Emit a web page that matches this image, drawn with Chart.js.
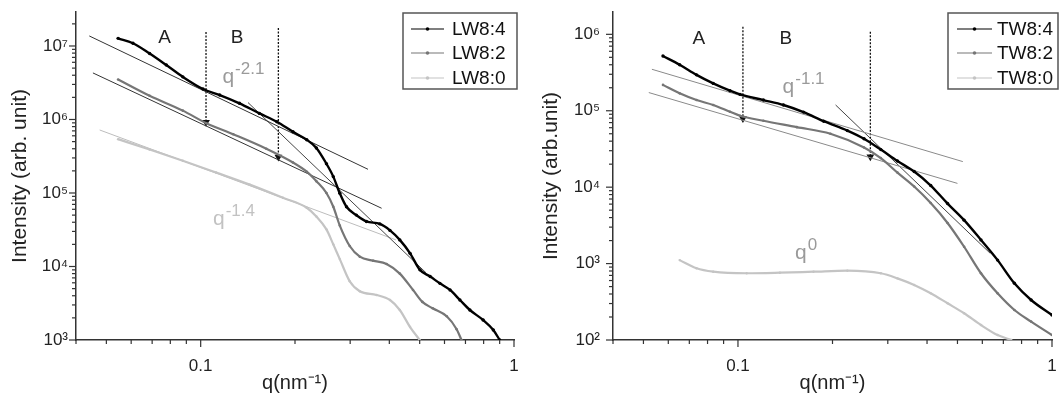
<!DOCTYPE html>
<html>
<head>
<meta charset="utf-8">
<script src="https://cdn.jsdelivr.net/npm/chart.js@4.4.0/dist/chart.umd.min.js"></script>
<style>
  html, body { margin: 0; padding: 0; background: #fff; }
  #wrap { position: relative; width: 1062px; height: 399px; overflow: hidden; }
  .panel { position: absolute; top: 0; width: 531px; height: 399px; }
</style>
</head>
<body>
<div id="wrap">
  <div class="panel" style="left:0"><canvas id="lwChart" width="531" height="399"></canvas></div>
  <div class="panel" style="left:531px"><canvas id="twChart" width="531" height="399"></canvas></div>
</div>
<script>
const FONT = "'Liberation Sans', Arial, sans-serif";

// ---- left panel (LW) ----
const qLW84 = [0.0545, 0.0608, 0.0687, 0.0777, 0.0877, 0.1017, 0.115, 0.133, 0.154, 0.175, 0.197, 0.218, 0.234, 0.252, 0.265, 0.278, 0.292, 0.314, 0.338, 0.373, 0.402, 0.432, 0.466, 0.501, 0.54, 0.58, 0.625, 0.672, 0.723, 0.797, 0.859, 0.90];
const iLW84 = [1.27e7, 1.09e7, 7.9e6, 5.5e6, 3.8e6, 2.6e6, 2.15e6, 1.66e6, 1.21e6, 9.3e5, 6.8e5, 5.3e5, 4.1e5, 2.5e5, 1.67e5, 9.9e4, 6.5e4, 5.0e4, 4.1e4, 3.8e4, 3.1e4, 2.3e4, 1.51e4, 9.0e3, 7.3e3, 5.9e3, 4.8e3, 3.5e3, 2.56e3, 1.87e3, 1.37e3, 1.0e3];
const qLW82 = [0.0545, 0.0687, 0.0877, 0.1043, 0.127, 0.162, 0.197, 0.218, 0.234, 0.252, 0.265, 0.278, 0.299, 0.322, 0.355, 0.392, 0.432, 0.476, 0.51, 0.55, 0.61, 0.656, 0.68];
const iLW82 = [3.5e6, 2.1e6, 1.32e6, 8.9e5, 6.3e5, 4.0e5, 2.6e5, 1.95e5, 1.45e5, 1.0e5, 6.5e4, 3.6e4, 1.9e4, 1.36e4, 1.2e4, 1.08e4, 8.0e3, 4.8e3, 3.3e3, 2.7e3, 2.1e3, 1.4e3, 1.0e3];
const qLW80 = [0.0545, 0.0687, 0.0877, 0.112, 0.1434, 0.183, 0.218, 0.234, 0.252, 0.265, 0.278, 0.299, 0.322, 0.364, 0.402, 0.432, 0.466, 0.50];
const iLW80 = [5.4e5, 3.9e5, 2.75e5, 1.9e5, 1.3e5, 8.6e4, 6.3e4, 4.8e4, 3.2e4, 2.0e4, 1.26e4, 6.3e3, 4.6e3, 4.1e3, 3.5e3, 2.56e3, 1.5e3, 1.0e3];

const fitLWUpperQ = [0.0441, 0.342], fitLWUpperI = [1.37e7, 2.1e5];
const fitLWLowerQ = [0.0453, 0.378], fitLWLowerI = [4.3e6, 6.2e4];
const fitLWSteepQ = [0.1416, 0.524], fitLWSteepI = [1.7e6, 8.2e3];
const fitLWLightQ = [0.0476, 0.42], fitLWLightI = [7.2e5, 2.3e4];
const arrowLWQ = [0.104, 0.177], arrowLWTop = [1.55e7, 1.76e7], arrowLWTip = [9.2e5, 3.1e5];

// ---- right panel (TW) ----
const qTW84 = [0.0577, 0.0652, 0.0738, 0.0834, 0.0943, 0.1015, 0.1205, 0.1396, 0.1617, 0.1875, 0.223, 0.252, 0.285, 0.322, 0.364, 0.411, 0.465, 0.525, 0.594, 0.671, 0.759, 0.858, 1.0];
const iTW84 = [5.2e5, 4.0e5, 2.95e5, 2.28e5, 1.83e5, 1.64e5, 1.38e5, 1.19e5, 9.6e4, 7.3e4, 5.5e4, 4.3e4, 3.1e4, 2.2e4, 1.6e4, 1.05e4, 6.1e3, 3.7e3, 2.04e3, 1.11e3, 552, 334, 212];
const qTW82 = [0.0577, 0.0652, 0.0738, 0.0834, 0.0943, 0.1015, 0.1205, 0.154, 0.197, 0.252, 0.285, 0.322, 0.364, 0.411, 0.465, 0.525, 0.594, 0.671, 0.759, 0.858, 1.0];
const iTW82 = [2.18e5, 1.69e5, 1.38e5, 1.19e5, 9.7e4, 8.6e4, 7.4e4, 6.1e4, 5.0e4, 3.3e4, 2.4e4, 1.55e4, 1.02e4, 6.2e3, 3.4e3, 1.66e3, 747, 408, 247, 174, 116];
const qTW80 = [0.0652, 0.0738, 0.0834, 0.1066, 0.136, 0.174, 0.223, 0.285, 0.322, 0.364, 0.411, 0.465, 0.525, 0.594, 0.671, 0.742];
const iTW80 = [1110, 867, 783, 747, 760, 783, 807, 747, 641, 525, 408, 302, 224, 157, 116, 100];

const fitTWUpperQ = [0.0532, 0.52], fitTWUpperI = [3.49e5, 2.16e4];
const fitTWLowerQ = [0.052, 0.50], fitTWLowerI = [1.73e5, 1.12e4];
const fitTWSteepQ = [0.2046, 0.636], fitTWSteepI = [1.19e5, 1.36e3];
const arrowTWQ = [0.1037, 0.264], arrowTWTop = [1.26e6, 1.08e6], arrowTWTip = [7.9e4, 2.5e4];

const xTickLabels = ['0.1', '1'];
const SUP = { 2: '²', 3: '³', 4: '⁴', 5: '⁵', 6: '⁶', 7: '⁷' };

const pts = (qs, is) => qs.map((q, k) => ({ x: q, y: is[k] }));
const isDecade = v => { const l = Math.log10(v); return Math.abs(l - Math.round(l)) < 1e-6; };

function series(label, qs, is, color, r, w) {
  return {
    label, data: pts(qs, is), inLegend: true,
    borderColor: color, backgroundColor: color, borderWidth: w,
    pointRadius: r, pointBackgroundColor: color, pointBorderWidth: 0,
    cubicInterpolationMode: 'monotone', fill: false
  };
}
function fitLine(qs, is, color) {
  return { data: pts(qs, is), borderColor: color, borderWidth: 1, pointRadius: 0, fill: false };
}
function arrows(qs, tops, tips) {
  return qs.map((q, k) => ({
    data: [{ x: q, y: tops[k] }, { x: q, y: tips[k] }],
    borderColor: '#111', borderWidth: 1.3, borderDash: [2, 1.5],
    pointStyle: 'triangle', rotation: 180, pointRadius: [0, 4.5],
    pointBackgroundColor: '#111', pointBorderWidth: 0, fill: false
  }));
}

// tick marks (majors longer) drawn through the scales
const logTicks = {
  id: 'logTicks',
  afterDraw(chart) {
    const { ctx, chartArea, scales } = chart;
    ctx.save();
    ctx.strokeStyle = '#333';
    ctx.lineWidth = 1.2;
    [scales.x, scales.y].forEach(scale => {
      const lo = Math.floor(Math.log10(scale.min)), hi = Math.ceil(Math.log10(scale.max));
      for (let d = lo; d <= hi; d++) {
        for (let m = 1; m <= 9; m++) {
          const v = m * Math.pow(10, d);
          if (v < scale.min * 0.999 || v > scale.max * 1.001) continue;
          const p = scale.getPixelForValue(v), len = m === 1 ? 7 : 4;
          ctx.beginPath();
          if (scale.isHorizontal()) {
            ctx.moveTo(p, chartArea.bottom); ctx.lineTo(p, chartArea.bottom + len);
          } else {
            ctx.moveTo(chartArea.left - len, p); ctx.lineTo(chartArea.left, p);
          }
          ctx.stroke();
        }
      }
    });
    ctx.restore();
  }
};

// boxed legend
const boxLegend = {
  id: 'boxLegend',
  afterDraw(chart, args, o) {
    const ctx = chart.ctx;
    ctx.save();
    ctx.fillStyle = '#fff';
    ctx.fillRect(o.x, o.y, o.w, o.h);
    ctx.strokeStyle = '#555';
    ctx.lineWidth = 1.5;
    ctx.strokeRect(o.x, o.y, o.w, o.h);
    ctx.font = '19px ' + FONT;
    ctx.textBaseline = 'middle';
    chart.data.datasets.filter(d => d.inLegend).forEach((ds, i) => {
      const y = o.y + o.rows[i];
      ctx.strokeStyle = ds.borderColor;
      ctx.lineWidth = 1.2;
      ctx.beginPath();
      ctx.moveTo(o.x + o.line0, y); ctx.lineTo(o.x + o.line1, y);
      ctx.stroke();
      ctx.fillStyle = ds.borderColor;
      ctx.beginPath();
      ctx.arc(o.x + (o.line0 + o.line1) / 2, y, 1.8, 0, Math.PI * 2);
      ctx.fill();
      ctx.fillStyle = '#111';
      ctx.fillText(ds.label, o.x + o.textX, y + 1);
    });
    ctx.restore();
  }
};

// text notes placed in data coordinates
const notes = {
  id: 'notes',
  afterDatasetsDraw(chart, args, o) {
    const { ctx, scales } = chart;
    ctx.save();
    o.items.forEach(n => {
      const x = scales.x.getPixelForValue(n.q), y = scales.y.getPixelForValue(n.i);
      ctx.fillStyle = n.color;
      ctx.font = n.size + 'px ' + FONT;
      if (n.sup === undefined) {
        ctx.textAlign = 'center'; ctx.textBaseline = 'middle';
        ctx.fillText(n.text, x, y);
      } else {
        ctx.textAlign = 'left'; ctx.textBaseline = 'alphabetic';
        ctx.fillText(n.text, x, y);
        const w = ctx.measureText(n.text).width;
        ctx.font = '17px ' + FONT;
        ctx.fillText(n.sup, x + w + 1, y - 9);
      }
    });
    ctx.restore();
  }
};

function makeChart(id, cfg) {
  return new Chart(document.getElementById(id), {
    type: 'line',
    data: { datasets: cfg.datasets },
    plugins: [logTicks, notes, boxLegend],
    options: {
      responsive: false,
      animation: false,
      devicePixelRatio: 1,
      layout: { padding: { top: 12, right: cfg.padRight, left: 0, bottom: 0 } },
      plugins: {
        legend: { display: false },
        tooltip: { enabled: false },
        boxLegend: cfg.legend,
        notes: { items: cfg.notes }
      },
      scales: {
        x: {
          type: 'logarithmic', min: 0.04, max: 1,
          grid: { display: false, drawTicks: true, tickLength: 15 },
          border: { display: true, color: '#333', width: 1.5 },
          ticks: {
            autoSkip: false, maxRotation: 0, padding: 1, color: '#222',
            font: { size: 17, family: FONT },
            callback: v => isDecade(v) ? xTickLabels[Math.round(Math.log10(v)) + 1] : ''
          },
          title: { display: true, text: 'q(nm⁻¹)', color: '#222', font: { size: 20, family: FONT }, padding: { top: 0, bottom: 4 } },
          afterFit: s => { s.height = 59; }
        },
        y: {
          type: 'logarithmic', min: cfg.yMin, max: cfg.yMax,
          grid: { display: false, drawTicks: true, tickLength: cfg.yPad },
          border: { display: true, color: '#333', width: 1.5 },
          ticks: {
            autoSkip: false, padding: 0, color: '#222',
            font: { size: 17, family: FONT },
            callback: v => isDecade(v) ? '10' + SUP[Math.round(Math.log10(v))] : ''
          },
          title: { display: true, text: cfg.yTitle, color: '#222', font: { size: 21, family: FONT }, padding: { top: 8, bottom: 0 } },
          afterFit: s => { s.width = cfg.yWidth; }
        }
      }
    }
  });
}

makeChart('lwChart', {
  yMin: 1e3, yMax: 2.9e7, yWidth: 76, yPad: 8, padRight: 17,
  yTitle: 'Intensity (arb. unit)',
  datasets: [
    series('LW8:4', qLW84, iLW84, '#000000', 1.7, 2.4),
    series('LW8:2', qLW82, iLW82, '#767676', 1.3, 2.2),
    series('LW8:0', qLW80, iLW80, '#c4c4c4', 1.2, 2.2),
    fitLine(fitLWUpperQ, fitLWUpperI, '#333333'),
    fitLine(fitLWLowerQ, fitLWLowerI, '#333333'),
    fitLine(fitLWSteepQ, fitLWSteepI, '#444444'),
    fitLine(fitLWLightQ, fitLWLightI, '#bdbdbd'),
    ...arrows(arrowLWQ, arrowLWTop, arrowLWTip)
  ],
  notes: [
    { text: 'A', q: 0.0767, i: 1.31e7, color: '#222', size: 19 },
    { text: 'B', q: 0.1306, i: 1.31e7, color: '#222', size: 19 },
    { text: 'q', sup: '-2.1', q: 0.1173, i: 3.1e6, color: '#9a9a9a', size: 21 },
    { text: 'q', sup: '-1.4', q: 0.1095, i: 3.67e4, color: '#c2c2c2', size: 21 }
  ],
  legend: { x: 403, y: 13, w: 114, h: 76, line0: 8, line1: 41, textX: 49, rows: [16, 40, 65] }
});

makeChart('twChart', {
  yMin: 1e2, yMax: 1.96e6, yWidth: 82, yPad: 13, padRight: 10,
  yTitle: 'Intensity (arb.unit)',
  datasets: [
    series('TW8:4', qTW84, iTW84, '#000000', 1.7, 2.4),
    series('TW8:2', qTW82, iTW82, '#767676', 1.3, 2.2),
    series('TW8:0', qTW80, iTW80, '#c4c4c4', 1.2, 2.2),
    fitLine(fitTWUpperQ, fitTWUpperI, '#8a8a8a'),
    fitLine(fitTWLowerQ, fitTWLowerI, '#8a8a8a'),
    fitLine(fitTWSteepQ, fitTWSteepI, '#444444'),
    ...arrows(arrowTWQ, arrowTWTop, arrowTWTip)
  ],
  notes: [
    { text: 'A', q: 0.075, i: 8.7e5, color: '#222', size: 19 },
    { text: 'B', q: 0.142, i: 8.7e5, color: '#222', size: 19 },
    { text: 'q', sup: '-1.1', q: 0.1387, i: 1.69e5, color: '#9a9a9a', size: 21 },
    { text: 'q', sup: '0', q: 0.152, i: 1.14e3, color: '#9a9a9a', size: 21 }
  ],
  legend: { x: 417, y: 13, w: 110, h: 76, line0: 9, line1: 44, textX: 49, rows: [16, 40, 65] }
});
</script>
</body>
</html>
